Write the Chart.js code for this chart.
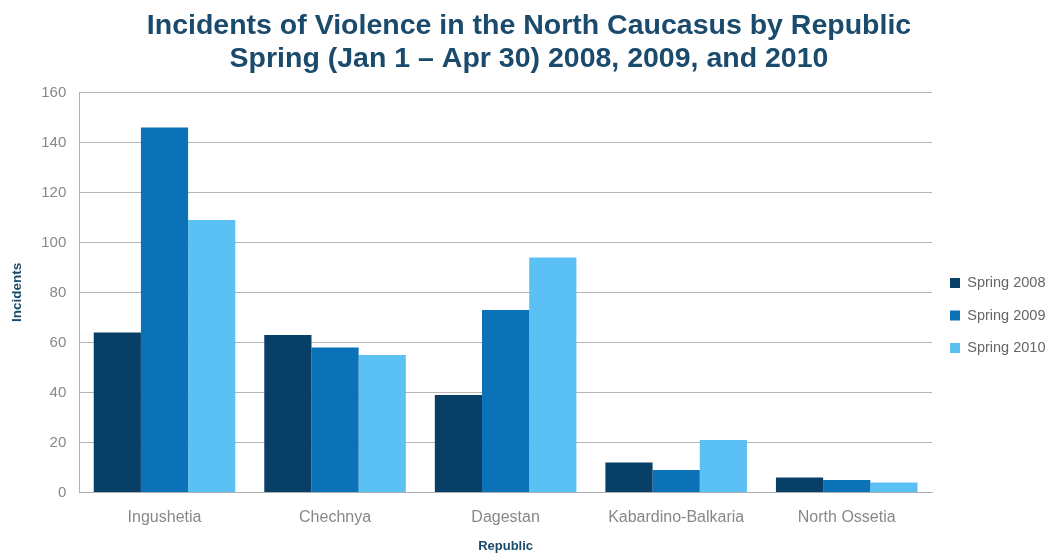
<!DOCTYPE html>
<html>
<head>
<meta charset="utf-8">
<script src="https://cdn.jsdelivr.net/npm/chart.js@4/dist/chart.umd.min.js"></script>
<style>
  html, body { margin: 0; padding: 0; background: #fff; }
  #wrap { width: 1049px; height: 553px; position: relative; }
</style>
</head>
<body>
<div id="wrap"><canvas id="chart"></canvas></div>
<script>
const REPUBLICS = ["Ingushetia", "Chechnya", "Dagestan", "Kabardino-Balkaria", "North Ossetia"];
const SPRING_2008 = [64, 63, 39, 12, 6];
const SPRING_2009 = [146, 58, 73, 9, 5];
const SPRING_2010 = [109, 55, 94, 21, 4];
const SERIES_LABELS = ["Spring 2008", "Spring 2009", "Spring 2010"];
const COLORS = ["#083f66", "#0b72b8", "#5bc0f4"];

const FONT = "'Liberation Sans', Arial, sans-serif";
const TITLE_COLOR = "#1a4a6c";
Chart.defaults.font.family = FONT;

new Chart(document.getElementById("chart"), {
  type: "bar",
  data: {
    labels: REPUBLICS,
    datasets: [SPRING_2008, SPRING_2009, SPRING_2010].map((d, i) => ({
      label: SERIES_LABELS[i],
      data: d,
      backgroundColor: COLORS[i],
      borderWidth: 0,
    })),
  },
  options: {
    responsive: true,
    maintainAspectRatio: false,
    animation: false,
    datasets: { bar: { categoryPercentage: 0.83, barPercentage: 1 } },
    layout: { padding: { top: 0, right: 0, bottom: 0, left: 9 } },
    plugins: {
      title: {
        display: true,
        text: ["Incidents of Violence in the North Caucasus by Republic", "Spring (Jan 1 \u2013 Apr 30) 2008, 2009, and 2010"],
        color: TITLE_COLOR,
        font: { size: 28.5, weight: "bold", lineHeight: 1.15 },
        padding: { top: 10, bottom: 17 },
      },
      legend: {
        position: "right",
        maxWidth: 117,
        title: { display: true, text: "", font: { size: 10 }, padding: { top: 0, bottom: 66 } },
        labels: {
          boxWidth: 10,
          boxHeight: 10,
          padding: 18,
          color: "#666",
          font: { size: 14.5 },
        },
      },
      tooltip: { enabled: false },
    },
    scales: {
      x: {
        grid: { display: false, drawTicks: false },
        border: { color: "#b0b0b0" },
        ticks: { color: "#888", font: { size: 16, lineHeight: 0.6 }, padding: 20 },
        title: { display: true, text: "Republic", color: TITLE_COLOR, font: { size: 13, weight: "bold", lineHeight: 1 }, padding: { top: -2, bottom: 0 } },
      },
      y: {
        min: 0,
        max: 160,
        ticks: { stepSize: 20, color: "#888", font: { size: 15 }, padding: 13 },
        grid: { color: "#b5b5b5", drawTicks: false },
        border: { color: "#b0b0b0" },
        title: { display: true, text: "Incidents", color: TITLE_COLOR, font: { size: 13.5, weight: "bold" }, padding: { top: 0, bottom: 3 } },
      },
    },
  },
});
</script>
</body>
</html>
